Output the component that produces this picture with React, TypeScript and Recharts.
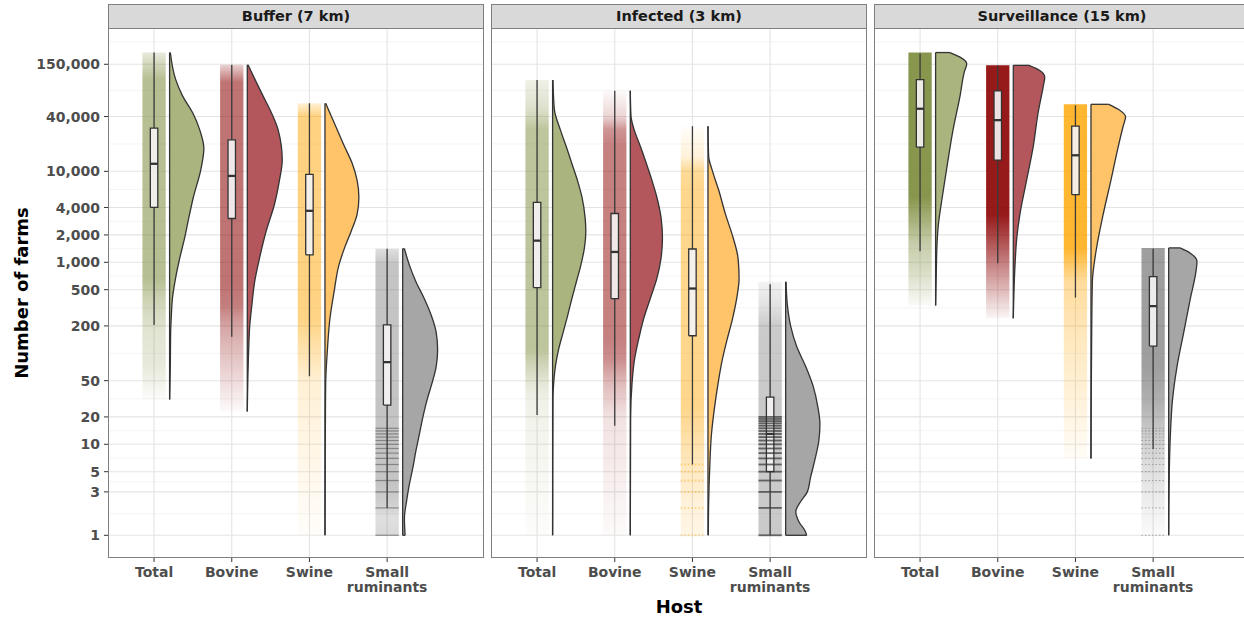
import React from 'react';
import { ComposedChart, Area, Line, XAxis, YAxis, CartesianGrid } from 'recharts';

const FONT = 'DejaVu Sans';

const hosts = ['Total', 'Bovine', 'Swine', 'Small ruminants'];
const hostPositions = [1, 2, 3, 4];
const zones = ['Buffer (7 km)', 'Infected (3 km)', 'Surveillance (15 km)'];

const pointColors = ['#7b8b3a', '#8b0000', '#ffa500', '#4d4d4d'];
const violinColors = ['#a9b47e', '#b4575c', '#ffc46a', '#a6a6a6'];

const yTicks = [1, 3, 5, 10, 20, 50, 200, 500, 1000, 2000, 4000, 10000, 40000, 150000];
const yMinorGrid = [1.73, 3.87, 7.07, 14.1, 31.6, 100, 316, 707, 1414, 2828, 6325, 20000, 77460, 265000];

// box stats per host: [lower whisker, q1, median, q3, upper whisker]
const bufferStats = [
  [205, 4010, 12100, 29900, 202000],
  [152, 3030, 8900, 22200, 148000],
  [56, 1210, 3680, 9270, 55900],
  [2, 27, 80, 205, 1410],
];
const infectedStats = [
  [21, 528, 1730, 4560, 101000],
  [16, 398, 1300, 3440, 76700],
  [6, 156, 515, 1400, 31300],
  [1, 5, 13, 33, 575],
];
const surveillanceStats = [
  [1320, 18400, 48700, 102000, 197000],
  [978, 13300, 36500, 76700, 146000],
  [409, 5550, 15000, 31300, 53100],
  [8.9, 120, 330, 695, 1410],
];

// half-violin profiles: [number of farms, relative density]
const bufferTotalViolin = [[202000, 0.02], [103000, 0.17], [67500, 0.37], [44000, 0.66], [28700, 0.86], [17900, 0.98], [10300, 0.89], [5190, 0.68], [3100, 0.55], [1860, 0.43], [1110, 0.29], [666, 0.17], [398, 0.08], [260, 0.05], [169, 0.03], [72, 0.02], [31, 0]];
const bufferBovineViolin = [[148000, 0.02], [95000, 0.26], [67500, 0.45], [44000, 0.69], [28700, 0.88], [13300, 1.0], [7950, 0.92], [4370, 0.78], [2200, 0.54], [1110, 0.35], [611, 0.21], [336, 0.13], [201, 0.07], [110, 0.04], [23, 0]];
const bufferSwineViolin = [[55900, 0.02], [40400, 0.18], [28700, 0.35], [18700, 0.56], [12200, 0.78], [7950, 0.92], [5190, 0.97], [3380, 0.92], [2200, 0.75], [1440, 0.56], [938, 0.4], [473, 0.26], [238, 0.14], [110, 0.07], [47, 0.02], [13, 0.01], [1, 0]];
const bufferSmallViolin = [[1410, 0.05], [938, 0.19], [611, 0.38], [398, 0.62], [260, 0.82], [169, 0.96], [110, 1.0], [72, 0.96], [47, 0.84], [31, 0.7], [20, 0.58], [13, 0.48], [8.5, 0.38], [5.5, 0.29], [3.6, 0.19], [2.35, 0.11], [1.53, 0.05], [1, 0.07]];

const infectedTotalViolin = [[101000, 0.01], [48000, 0.05], [28700, 0.22], [18700, 0.39], [12200, 0.55], [7950, 0.71], [5190, 0.84], [3100, 0.93], [2200, 0.95], [1440, 0.91], [938, 0.81], [611, 0.68], [398, 0.55], [260, 0.43], [169, 0.3], [110, 0.17], [72, 0.08], [47, 0.03], [31, 0.01], [1, 0]];
const infectedBovineViolin = [[76700, 0], [40400, 0.02], [28700, 0.11], [18700, 0.29], [12200, 0.46], [7950, 0.62], [5190, 0.76], [3100, 0.88], [1860, 0.92], [1110, 0.88], [666, 0.76], [398, 0.57], [238, 0.38], [143, 0.24], [85, 0.12], [47, 0.05], [20, 0.01], [1, 0]];
const infectedSwineViolin = [[31300, 0], [14500, 0.02], [10300, 0.12], [6150, 0.31], [3380, 0.5], [1860, 0.72], [1110, 0.86], [666, 0.89], [398, 0.82], [238, 0.7], [143, 0.55], [85, 0.41], [47, 0.29], [25.8, 0.19], [13, 0.1], [5.5, 0.05], [2.35, 0.02], [1, 0.01]];
const infectedSmallViolin = [[611, 0.01], [336, 0.05], [201, 0.14], [120, 0.31], [72, 0.57], [43, 0.79], [25.8, 0.92], [16.8, 0.98], [11, 0.95], [6.6, 0.83], [4.3, 0.71], [3.0, 0.62], [2.35, 0.43], [1.82, 0.29], [1.41, 0.38], [1.09, 0.57], [1, 0.6]];

const surveillanceTotalViolin = [[202000, 0.41], [180000, 0.7], [152000, 0.89], [123000, 0.82], [67500, 0.7], [28700, 0.5], [12200, 0.34], [5190, 0.19], [2620, 0.08], [1570, 0.04], [789, 0.02], [336, 0]];
const surveillanceBovineViolin = [[146000, 0.45], [128000, 0.76], [108000, 0.9], [87000, 0.86], [44000, 0.71], [18700, 0.57], [7950, 0.38], [3380, 0.19], [1860, 0.1], [938, 0.05], [243, 0]];
const surveillanceSwineViolin = [[54500, 0.51], [48000, 0.78], [39700, 0.99], [31300, 0.92], [18700, 0.78], [7950, 0.57], [3380, 0.35], [1440, 0.16], [611, 0.04], [169, 0.02], [7, 0]];
const surveillanceSmallViolin = [[1440, 0.33], [1260, 0.62], [1020, 0.81], [789, 0.78], [398, 0.62], [169, 0.43], [72, 0.24], [31, 0.11], [13, 0.05], [5.5, 0.02], [1, 0]];

// integer counts that show as stacked point rows
const bufferSmallStripes = [1, 2, 3, 4, 5, 6, 7, 8, 9, 10, 11, 12, 13, 14, 15];
const infectedSwineStripes = [1, 2, 3, 4, 5, 6];
const infectedSmallStripes = [1, 2, 3, 4, 5, 6, 7, 8, 9, 10, 11, 12, 13, 14, 15, 16, 17, 18, 19, 20];
const surveillanceSmallStripes = [1, 2, 3, 4, 5, 6, 7, 8, 9, 10, 11, 12, 13, 14, 15];

const panels = [
  { stats: bufferStats, violins: [bufferTotalViolin, bufferBovineViolin, bufferSwineViolin, bufferSmallViolin], stripes: [[], [], [], bufferSmallStripes] },
  { stats: infectedStats, violins: [infectedTotalViolin, infectedBovineViolin, infectedSwineViolin, infectedSmallViolin], stripes: [[], [], infectedSwineStripes, infectedSmallStripes] },
  { stats: surveillanceStats, violins: [surveillanceTotalViolin, surveillanceBovineViolin, surveillanceSwineViolin, surveillanceSmallViolin], stripes: [[], [], [], surveillanceSmallStripes] },
];

// layout
const PLOT_TOP = 28;
const PLOT_H = 530;
const AXIS_H = 61;
const Y_AXIS_W = 108;
const PANEL_W = 376;
const panelLefts = [108, 491, 874];
const X_DOMAIN = [0.407, 5.247];
const Y_DOMAIN = [0.563, 375800];
const CLOUD_HALF = 0.15;
const BOX_HALF = 0.048;
const VIOLIN_GAP = 0.2;
const VIOLIN_SCALE = 0.45;
const cloudAlpha = [0.55, 0.5, 0.9];
const hostAlpha = [1, 1, 0.9, 0.6];
const stripeStyles = [
  { stroke: '#6a6a6a', width: 1.2, dash: undefined, opacity: 0.7 },
  { stroke: '#4d4d4d', width: 1.8, dash: undefined, opacity: 0.85 },
  { stroke: '#777777', width: 1, dash: '1.5 2', opacity: 0.6 },
];

const fmt = (v: number) => v.toLocaleString('en-US');

const cloudOpacity = (panel: number, host: number, d: number) =>
  cloudAlpha[panel] * hostAlpha[host] * (0.04 + 0.96 * Math.pow(Math.min(1, d / 0.15), 0.6));

function HostTick(props: any) {
  const { x, y, payload } = props;
  const label = hosts[payload.value - 1] || '';
  const lines = label.split(' ');
  return (
    <text x={x} y={y} textAnchor="middle" fill="#4d4d4d" fontSize={14} fontWeight={700}
      style={{ fontFamily: FONT }}>
      {lines.map((l: string, i: number) => (
        <tspan key={i} x={x} dy={i === 0 ? '0.9em' : '1.12em'}>{l}</tspan>
      ))}
    </text>
  );
}

function CountTick(props: any) {
  const { x, y, payload } = props;
  return (
    <text x={x} y={y} dy="0.36em" textAnchor="end" fill="#4d4d4d" fontSize={14} fontWeight={700}
      style={{ fontFamily: FONT }}>
      {fmt(payload.value)}
    </text>
  );
}

function Panel({ index }: { index: number }) {
  const panel = panels[index];
  const showY = index === 0;
  const items: React.ReactNode[] = [];
  const gradients: React.ReactNode[] = [];

  hostPositions.forEach((c, h) => {
    const rows = panel.violins[h].map(([v, d]) => ({ v, d }));
    const [lo, q1, med, q3, hi] = panel.stats[h];
    const gid = `cloud-${index}-${h}`;
    const top = Math.log10(rows[0].v);
    const bottom = Math.log10(rows[rows.length - 1].v);
    gradients.push(
      <linearGradient key={gid} id={gid} x1="0" y1="0" x2="0" y2="1">
        {rows.map((r, i) => (
          <stop
            key={i}
            offset={(top - Math.log10(r.v)) / (top - bottom)}
            stopColor={pointColors[h]}
            stopOpacity={cloudOpacity(index, h, r.d)}
          />
        ))}
      </linearGradient>
    );

    items.push(
      <Area key={`cloud${h}`} data={rows} dataKey={() => [c - CLOUD_HALF, c + CLOUD_HALF]} type="linear"
        stroke="none" fill={`url(#${gid})`} fillOpacity={1} dot={false} activeDot={false} isAnimationActive={false} />
    );

    const st = stripeStyles[index];
    panel.stripes[h].forEach((k) => {
      items.push(
        <Line key={`stripe${h}-${k}`} data={[{ v: k, x: c - CLOUD_HALF }, { v: k, x: c + CLOUD_HALF }]} dataKey="x"
          stroke={h === 2 ? pointColors[2] : st.stroke} strokeWidth={st.width} strokeDasharray={h === 2 ? '1.5 2' : st.dash}
          strokeOpacity={h === 2 ? 0.4 : st.opacity} dot={false} activeDot={false} isAnimationActive={false} />
      );
    });

    items.push(
      <Line key={`wu${h}`} data={[{ v: q3, x: c }, { v: hi, x: c }]} dataKey="x" stroke="#3a3a3a" strokeWidth={1.3}
        dot={false} activeDot={false} isAnimationActive={false} />,
      <Line key={`wl${h}`} data={[{ v: lo, x: c }, { v: q1, x: c }]} dataKey="x" stroke="#3a3a3a" strokeWidth={1.3}
        dot={false} activeDot={false} isAnimationActive={false} />,
      <Area key={`box${h}`} data={[{ v: q1 }, { v: q3 }]} dataKey={() => [c - BOX_HALF, c + BOX_HALF]} type="linear"
        stroke="none" fill="#f4f2f2" fillOpacity={0.92} dot={false} activeDot={false} isAnimationActive={false} />,
      <Line key={`boxo${h}`} data={[
        { v: q1, x: c - BOX_HALF }, { v: q1, x: c + BOX_HALF }, { v: q3, x: c + BOX_HALF },
        { v: q3, x: c - BOX_HALF }, { v: q1, x: c - BOX_HALF },
      ]} dataKey="x" stroke="#333" strokeWidth={1.3} dot={false} activeDot={false} isAnimationActive={false} />,
      <Line key={`med${h}`} data={[{ v: med, x: c - BOX_HALF }, { v: med, x: c + BOX_HALF }]} dataKey="x"
        stroke="#333" strokeWidth={2.3} dot={false} activeDot={false} isAnimationActive={false} />,
      <Area key={`vio${h}`} data={rows} dataKey={(r: any) => [c + VIOLIN_GAP, c + VIOLIN_GAP + r.d * VIOLIN_SCALE]}
        type="monotone" stroke="#333" strokeWidth={1.3} fill={violinColors[h]} fillOpacity={1}
        dot={false} activeDot={false} isAnimationActive={false} />
    );

    const first = rows[0];
    const last = rows[rows.length - 1];
    [first, last].forEach((r, i) => {
      if (r.d > 0.03) {
        items.push(
          <Line key={`cap${h}-${i}`} data={[{ v: r.v, x: c + VIOLIN_GAP }, { v: r.v, x: c + VIOLIN_GAP + r.d * VIOLIN_SCALE }]}
            dataKey="x" stroke="#333" strokeWidth={1.3} dot={false} activeDot={false} isAnimationActive={false} />
        );
      }
    });
  });

  return (
    <ComposedChart
      layout="vertical"
      width={PANEL_W + (showY ? Y_AXIS_W : 0)}
      height={PLOT_TOP + PLOT_H + AXIS_H}
      margin={{ top: PLOT_TOP, right: 0, bottom: 0, left: 0 }}
      style={{ fontFamily: FONT }}
    >
      <defs>{gradients}</defs>
      <CartesianGrid horizontalValues={yMinorGrid} vertical={false} stroke="#f1f1f1" strokeWidth={0.8} />
      <CartesianGrid horizontalValues={yTicks} verticalValues={hostPositions} stroke="#e4e4e4" strokeWidth={1.1} />
      <XAxis type="number" domain={X_DOMAIN} ticks={hostPositions} interval={0} allowDataOverflow
        axisLine={false} tickLine={{ stroke: '#333' }} tickSize={4} tickMargin={2} height={AXIS_H} tick={<HostTick />} />
      <YAxis type="number" dataKey="v" scale="log" domain={Y_DOMAIN} allowDataOverflow reversed ticks={yTicks} interval={0}
        width={Y_AXIS_W} hide={!showY} axisLine={false} tickLine={{ stroke: '#333' }} tickSize={4} tickMargin={4}
        tick={<CountTick />} />
      {items}
    </ComposedChart>
  );
}

export default function App() {
  return (
    <div style={{ position: 'absolute', left: 0, top: 0, width: 1244, height: 619, overflow: 'hidden', background: '#fff', fontFamily: FONT }}>
      {zones.map((z, i) => (
        <React.Fragment key={z}>
          <div style={{ position: 'absolute', left: panelLefts[i] - (i === 0 ? Y_AXIS_W : 0), top: 0 }}>
            <Panel index={i} />
          </div>
          <div style={{
            position: 'absolute', left: panelLefts[i], top: 4, width: PANEL_W, height: 25, boxSizing: 'border-box',
            border: '1px solid #7f7f7f', background: '#d9d9d9', textAlign: 'center', fontWeight: 700,
            fontSize: 14.5, lineHeight: '23px', color: '#1a1a1a',
          }}>{z}</div>
          <div style={{
            position: 'absolute', left: panelLefts[i], top: PLOT_TOP, width: PANEL_W, height: PLOT_H,
            boxSizing: 'border-box', border: '1px solid #7f7f7f', pointerEvents: 'none',
          }} />
        </React.Fragment>
      ))}
      <div style={{
        position: 'absolute', left: 21, top: 293, transform: 'translate(-50%, -50%) rotate(-90deg)',
        whiteSpace: 'nowrap', fontWeight: 700, fontSize: 18, color: '#000',
      }}>Number of farms</div>
      <div style={{
        position: 'absolute', left: 679, top: 606, transform: 'translate(-50%, -50%)',
        whiteSpace: 'nowrap', fontWeight: 700, fontSize: 18, color: '#000',
      }}>Host</div>
    </div>
  );
}
